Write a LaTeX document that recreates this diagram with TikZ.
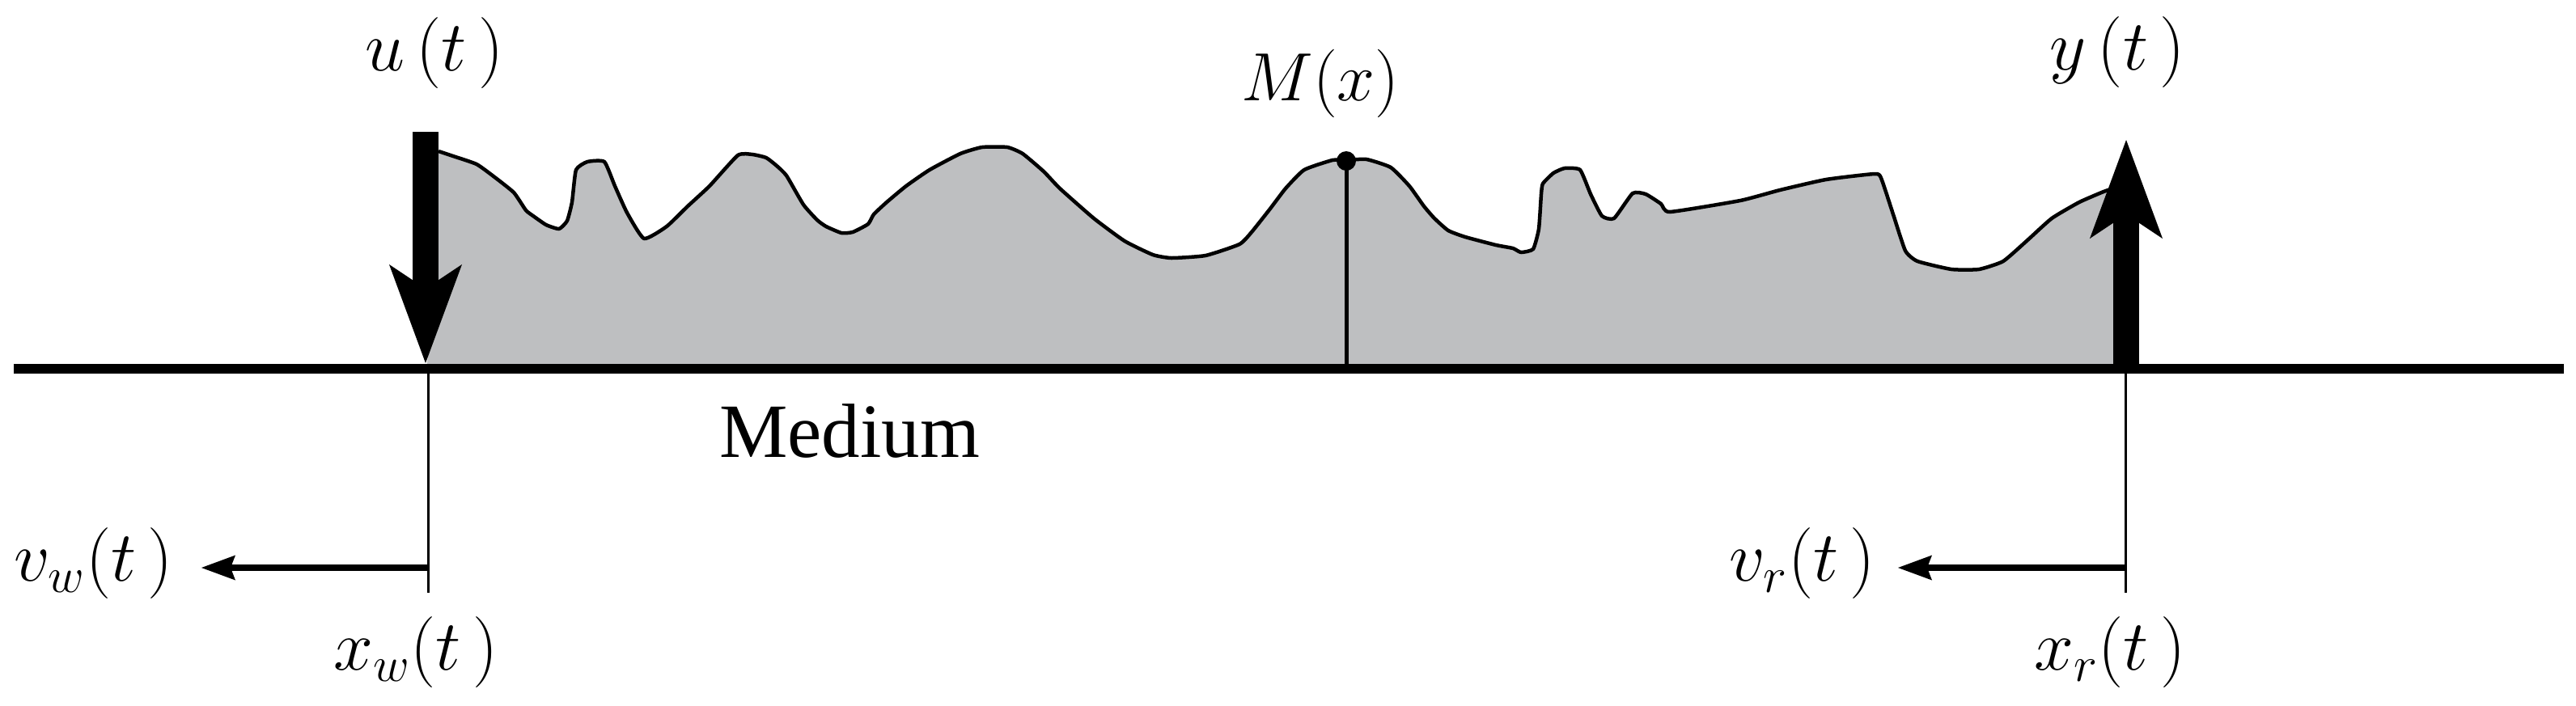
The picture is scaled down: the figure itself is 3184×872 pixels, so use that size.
\RequirePackage{fix-cm}
\documentclass[tikz,border=0pt]{standalone}
\usepackage{fontspec}
\newfontfamily\tnr{Liberation Serif}
\usetikzlibrary{arrows.meta}
\definecolor{medgray}{RGB}{190,191,193}
\tikzset{
  lbl/.style={inner sep=0pt, font=\fontsize{25}{30}\selectfont},
  bigarrow/.style={line width=0.32cm, -{Stealth[length=1.22cm, width=0.9cm, inset=0.3cm, line width=0pt]}},
  smallarrow/.style={line width=0.08cm, -{Stealth[length=0.42cm, width=0.31cm, inset=0.06cm, line width=0pt]}},
  thinline/.style={line width=0.03cm},
  baseline/.style={line width=0.12cm},
  profile/.style={line width=0.045cm, line join=round},
}
\begin{document}
\begin{tikzpicture}[x=0.01cm, y=-0.01cm]
\useasboundingbox (0,0) rectangle (3184,872);

% medium profile
\def\prof{(542,187) (560,193) (589,203) (610,218) (635,238) (650,260) (659,267) (675,278) (691,283) (701,273) (707,250) (712,210) (726,200) (747,200) (760,230) (775,263) (796,295) (824,280) (850,255) (877,230) (912,192) (930,191) (947,195) (960,205) (972,217) (993,253) (1010,272) (1021,280) (1040,288) (1054,287) (1073,277) (1080,265) (1096,250) (1120,230) (1149,210) (1187,190) (1214,182) (1245,182) (1264,190) (1290,212) (1310,233) (1352,270) (1390,298) (1425,315) (1448,319) (1490,316) (1532,302) (1547,287) (1570,258) (1589,233) (1612,210) (1647,198) (1664,198) (1689,197) (1719,207) (1742,230) (1760,255) (1773,270) (1790,285) (1811,293) (1849,303) (1870,307) (1880,312) (1895,308) (1902,283) (1905,240) (1907,227) (1920,214) (1934,208) (1953,210) (1966,240) (1980,267) (1995,270) (2018,239) (2034,240) (2053,252) (2064,262) (2151,248) (2200,235) (2257,222) (2317,215) (2325,220) (2340,265) (2355,310) (2370,323) (2412,333) (2446,333) (2476,323) (2506,297) (2536,270) (2570,250) (2600,237) (2612,233)}
\fill[medgray] (527,456) -- (542,330) -- plot[smooth, tension=0.3] coordinates {\prof} -- (2612,456) -- cycle;
\draw[profile] plot[smooth, tension=0.3] coordinates {\prof};

% named points
\coordinate (bl) at (17,456);
\coordinate (br) at (3169,456);
\coordinate (xw) at (529,456);
\coordinate (xwlow) at (529,733);
\coordinate (xr) at (2627,456);
\coordinate (xrlow) at (2627,733);
\coordinate (vwstart) at (529,702);
\coordinate (vwtip) at (249,702);
\coordinate (vrstart) at (2627,702);
\coordinate (vrtip) at (2346,702);
\coordinate (utop) at (526,163);
\coordinate (utip) at (526,449);
\coordinate (ybot) at (2628,456);
\coordinate (ytip) at (2628,173);
\coordinate (mbase) at (1664,456);
\node[circle, fill=black, inner sep=0pt, minimum size=0.24cm] (mdot) at (1664,199) {};

% M stem
\draw[line width=0.05cm] (mdot.center) -- (mbase);

% baseline
\draw[baseline] (bl) -- (br);

% thin position lines
\draw[thinline] (xw) -- (xwlow);
\draw[thinline] (xr) -- (xrlow);

% big arrows
\draw[bigarrow] (utop) -- (utip);
\draw[bigarrow] (ybot) -- (ytip);

% small arrows
\draw[smallarrow] (vwstart) -- (vwtip);
\draw[smallarrow] (vrstart) -- (vrtip);

% labels
\node[lbl] (ut) at (537,66) {$u\,(t\,)$};
\node[lbl, font=\fontsize{24}{28}\selectfont] (Mx) at (1632,103) {$M(x)$};
\node[lbl] (yt) at (2617,65) {$y\,(t\,)$};
\node[lbl] (vw) at (116,697) {$v_w(t\,)$};
\node[lbl] (xwt) at (514,807) {$x_w(t\,)$};
\node[lbl] (vr) at (2228,697) {$v_r(t\,)$};
\node[lbl] (xrt) at (2608,807) {$x_r(t\,)$};
\node[inner sep=0pt, anchor=base, font=\tnr\fontsize{27}{32}\selectfont] (med) at (1050,565) {Medium};
\end{tikzpicture}
\end{document}
